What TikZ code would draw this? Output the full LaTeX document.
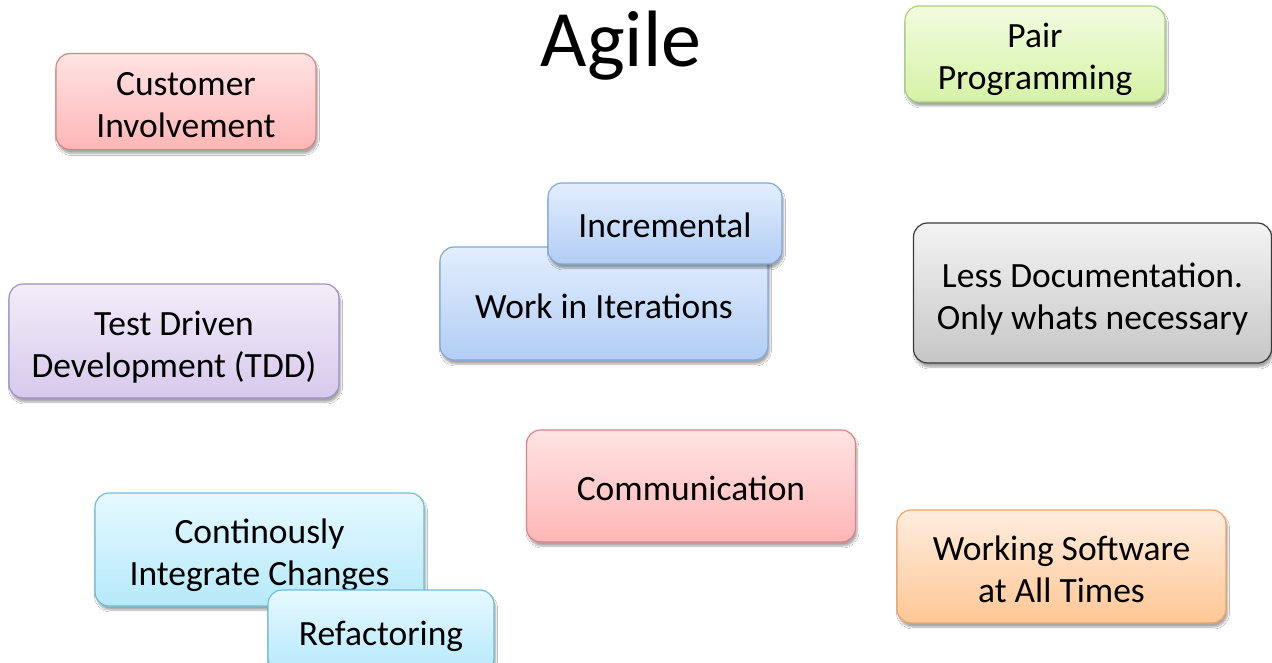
\documentclass[tikz,border=0pt]{standalone}
\usepackage{fontspec}
\setmainfont{Carlito}
\usepackage{xcolor}
\usepackage{tikz}
\usetikzlibrary{shapes.geometric, shadows.blur}

\definecolor{redtop}{HTML}{FFE3E3}
\definecolor{redbot}{HTML}{FFB6B6}
\definecolor{redline}{HTML}{D98585}
\definecolor{greentop}{HTML}{F2FCE0}
\definecolor{greenbot}{HTML}{D6F2A6}
\definecolor{greenline}{HTML}{AACF80}
\definecolor{bluetop}{HTML}{E3EEFE}
\definecolor{bluebot}{HTML}{B2CDF4}
\definecolor{blueline}{HTML}{7FA9DC}
\definecolor{greytop}{HTML}{F4F4F4}
\definecolor{greybot}{HTML}{C6C6C6}
\definecolor{greyline}{HTML}{3A3A3A}
\definecolor{purptop}{HTML}{F3EDF9}
\definecolor{purpbot}{HTML}{D7C9EC}
\definecolor{purpline}{HTML}{A28FC4}
\definecolor{cyantop}{HTML}{E6F9FF}
\definecolor{cyanbot}{HTML}{B6E9FB}
\definecolor{cyanline}{HTML}{6FBFD8}
\definecolor{orantop}{HTML}{FFEDDF}
\definecolor{oranbot}{HTML}{FFC795}
\definecolor{oranline}{HTML}{F2A25F}

\begin{document}
\begin{tikzpicture}[x=1pt, y=-1pt,
  card/.style={rectangle, rounded corners=14pt, line width=1.2pt, align=center, inner sep=0pt,
    font=\fontsize{35.5}{42}\selectfont,
    execute at begin node={\rule{0pt}{41pt}}, execute at end node={\rule[-12pt]{0pt}{12pt}},
    blur shadow={shadow xshift=1.5pt, shadow yshift=-4pt, shadow blur steps=6, shadow opacity=35}},
  twoline/.style={execute at begin node={\rule{0pt}{84pt}}},
  redcard/.style={card, draw=redline, top color=redtop, bottom color=redbot},
  greencard/.style={card, draw=greenline, top color=greentop, bottom color=greenbot},
  bluecard/.style={card, draw=blueline, top color=bluetop, bottom color=bluebot},
  greycard/.style={card, draw=greyline, top color=greytop, bottom color=greybot},
  purpcard/.style={card, draw=purpline, top color=purptop, bottom color=purpbot},
  cyancard/.style={card, draw=cyanline, top color=cyantop, bottom color=cyanbot},
  orancard/.style={card, draw=oranline, top color=orantop, bottom color=oranbot}]
\useasboundingbox[fill=white] (0,0) rectangle (1272,663);

\node(agile)[font=\fontsize{80}{96}\selectfont] at (621,46) {Agile};

\node(cust)[redcard, twoline, minimum width=260pt, minimum height=95pt] at (186,101.5) {Customer\\Involvement};
\node(pair)[greencard, twoline, minimum width=260pt, minimum height=94pt] at (1035,54) {Pair\\Programming};

\node(iter)[bluecard, minimum width=328pt, minimum height=113pt] at (604,303.5) {Work in Iterations};
\node(incr)[bluecard, minimum width=234pt, minimum height=81pt] at (665,223.5) {Incremental};

\node(docs)[greycard, twoline, minimum width=358pt, minimum height=140pt] at (1092.5,293) {Less Documentation.\\Only whats necessary};
\node(tdd)[purpcard, twoline, minimum width=330pt, minimum height=114pt] at (174,341) {Test Driven\\Development (TDD)};

\node(comm)[redcard, minimum width=329pt, minimum height=112pt] at (691,486) {Communication};
\node(work)[orancard, twoline, minimum width=329pt, minimum height=113pt] at (1061.5,566.5) {Working Software\\at All Times};

\node(integ)[cyancard, twoline, minimum width=329pt, minimum height=113pt] at (259.5,549.5) {Continously\\Integrate Changes};
\node(refac)[cyancard, minimum width=226pt, minimum height=82pt] at (381,631) {Refactoring};
\end{tikzpicture}
\end{document}
